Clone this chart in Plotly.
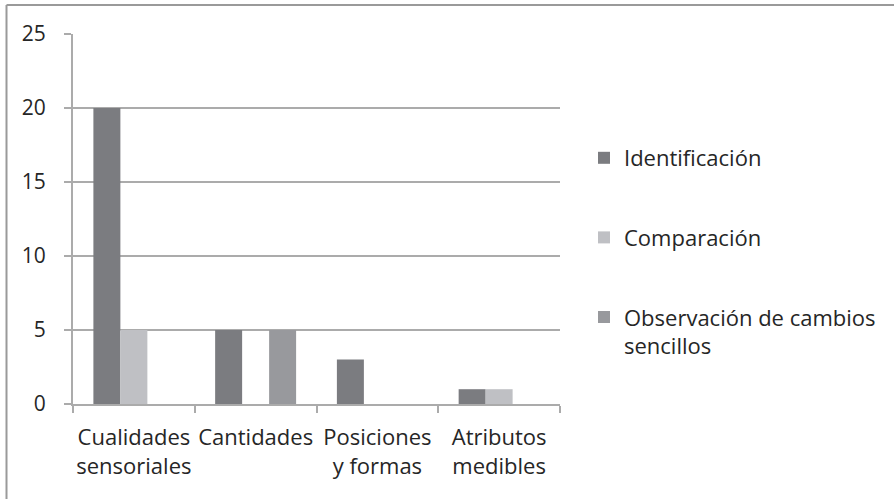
import plotly.graph_objects as go

categories = ["Cualidades<br>sensoriales", "Cantidades", "Posiciones<br>y formas", "Atributos<br>medibles"]
identificacion = [20, 5, 3, 1]
comparacion = [5, 0, 0, 1]
observacion = [0, 5, 0, 0]
series_names = ["Identificación", "Comparación", "Observación de cambios<br>sencillos"]
colors = ["#7b7c80", "#bfc0c4", "#98999d"]
y_ticks = [0, 5, 10, 15, 20, 25]

W, H = 894, 499
L, R, T, B = 73, 334, 34, 95
pw, ph = W - L - R, H - T - B

fig = go.Figure()
for name, vals, col, g in zip(series_names, [identificacion, comparacion, observacion], colors, ["a", "b", "c"]):
    fig.add_trace(go.Bar(x=categories, y=vals, name=name, marker=dict(color=col, line=dict(width=0)),
                         legendgroup=g))

font = dict(family="Open Sans", size=22, color="#262626")
yfont = dict(family="Open Sans", size=21, color="#262626")
grid = "#ababab"

fig.update_layout(
    width=W, height=H,
    margin=dict(l=L, r=R, t=T, b=B, autoexpand=False),
    paper_bgcolor="white", plot_bgcolor="white",
    font=font,
    barmode="group", bargap=0.335, bargroupgap=0,
    showlegend=True,
    legend=dict(x=(584 - L) / pw, y=1 - (137 - T) / ph, xanchor="left", yanchor="top",
                traceorder="grouped", tracegroupgap=48, valign="top",
                font=font),
    xaxis=dict(showline=True, linecolor=grid, linewidth=2, ticks="outside", tickson="boundaries",
               ticklen=7, tickcolor=grid, tickwidth=2, showgrid=False, tickfont=font,
               ticklabelstandoff=13, tickangle=0),
    yaxis=dict(range=[0, 25], tickvals=y_ticks, showline=True, linecolor=grid, linewidth=2,
               ticks="outside", ticklen=7, tickcolor=grid, tickwidth=2,
               showgrid=True, gridcolor=grid, gridwidth=2, zeroline=False,
               ticklabelstandoff=14, tickfont=yfont),
    shapes=[
        dict(type="line", xref="paper", yref="paper", x0=(6.5 - L) / pw, x1=(W + 10 - L) / pw,
             y0=1 + (T - 5) / ph, y1=1 + (T - 5) / ph, line=dict(color="#9a9a9a", width=2)),
        dict(type="line", xref="paper", yref="paper", x0=(6.5 - L) / pw, x1=(6.5 - L) / pw,
             y0=1 + (T - 5) / ph, y1=-(H + 10 - (H - B)) / ph, line=dict(color="#9a9a9a", width=2)),
    ],
)

fig.write_html("out.html", config={"displayModeBar": False},
               post_script="document.body.style.margin='0';")
